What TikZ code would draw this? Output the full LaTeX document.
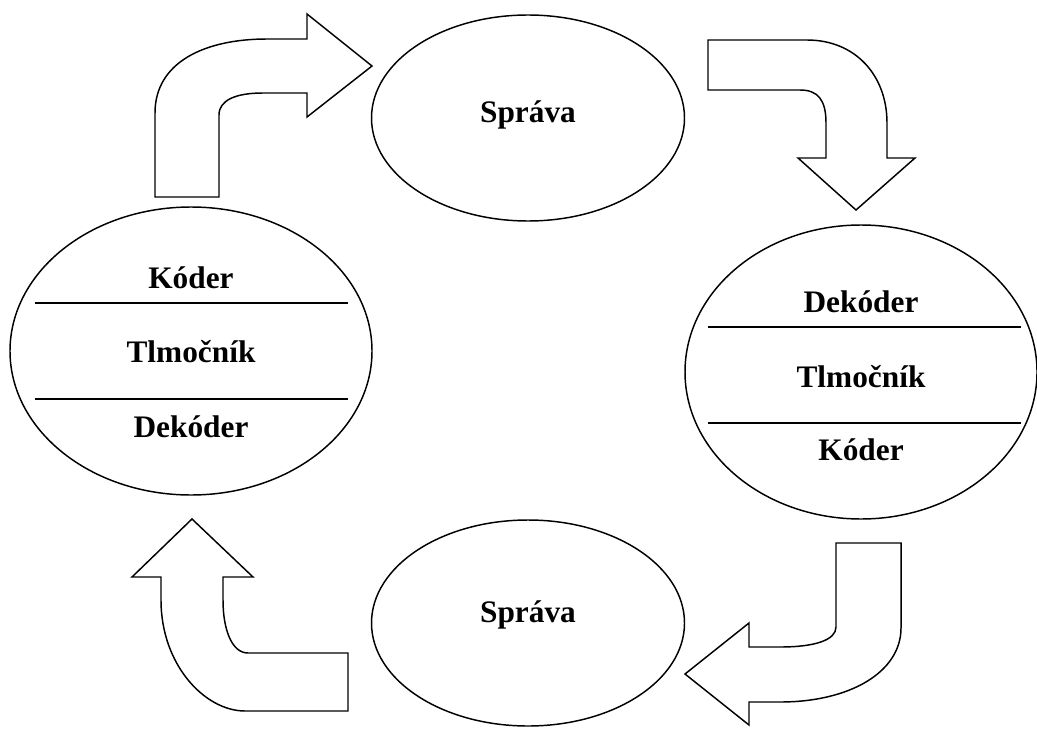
\documentclass[tikz,border=0pt]{standalone}
\usepackage{fontspec}
\setmainfont{Liberation Serif}
\usepackage{tikz}
\usetikzlibrary{shapes.geometric}

\tikzset{
  ell/.style={draw,ellipse,line width=1.1pt,inner sep=0pt},
  lbl/.style={font=\fontsize{23.5}{28}\selectfont\bfseries,inner sep=0pt},
  blockarrow/.style={draw,fill=white,line width=1.1pt,line join=miter}
}

\begin{document}
\begin{tikzpicture}[x=0.75pt,y=-0.75pt]
        \useasboundingbox (0,0) rectangle (1037,731);
        % left: sender
        \node[ell,minimum width=271.5pt,minimum height=216pt] (left) at (191,351) {};
        \node[lbl] (lcod) at (191,278) {Kóder};
        \node[lbl] (ltlm) at (191,352) {Tlmočník};
        \node[lbl] (ldec) at (191,427) {Dekóder};
        \draw[line width=0.9pt] (35,303) -- (348,303);
        \draw[line width=0.9pt] (35,399) -- (348,399);
        % top message
        \node[ell,minimum width=234.75pt,minimum height=154.5pt] (msgtop) at (528,118) {};
        \node[lbl] (msgtoplbl) at (528,115) {Správa};
        % right: receiver
        \node[ell,minimum width=264pt,minimum height=220.5pt] (right) at (861,372) {};
        \node[lbl] (rdec) at (861,302) {Dekóder};
        \node[lbl] (rtlm) at (861,377) {Tlmočník};
        \node[lbl] (rcod) at (861,450) {Kóder};
        \draw[line width=0.9pt] (708,327) -- (1021,327);
        \draw[line width=0.9pt] (708,423) -- (1021,423);
        % bottom message
        \node[ell,minimum width=234.75pt,minimum height=154.5pt] (msgbot) at (528,623) {};
        \node[lbl] (msgbotlbl) at (528,615) {Správa};
        % arrow left -> top
        \draw[blockarrow] (155,197) -- (155,113) .. controls (155,62) and (205,39) .. (267,39)
          -- (307,39) -- (307,14) -- (372,66) -- (307,117) -- (307,93) -- (263,93)
          .. controls (236,93) and (219,100) .. (219,115) -- (219,197) -- cycle;
        % arrow top -> right
        \draw[blockarrow] (708,40) -- (807,40) .. controls (855,40) and (887,75) .. (887,123)
          -- (887,158) -- (915,158) -- (856,210) -- (798,158) -- (826,158) -- (826,123)
          .. controls (826,100) and (818,90) .. (800,90) -- (708,90) -- cycle;
        % arrow right -> bottom
        \draw[blockarrow] (836,543) -- (901,543) -- (901,628) .. controls (901,672) and (850,702) .. (780,702)
          -- (749,702) -- (749,725) -- (685,674) -- (749,623) -- (749,647) -- (780,647)
          .. controls (815,647) and (836,640) .. (836,627) -- cycle;
        % arrow bottom -> left
        \draw[blockarrow] (348,653) -- (248,653) .. controls (232,653) and (223,630) .. (223,600)
          -- (223,577) -- (253,577) -- (192,519) -- (132,577) -- (161,577) -- (161,600)
          .. controls (161,665) and (205,711) .. (245,711) -- (348,711) -- cycle;
    \end{tikzpicture}
\end{document}
